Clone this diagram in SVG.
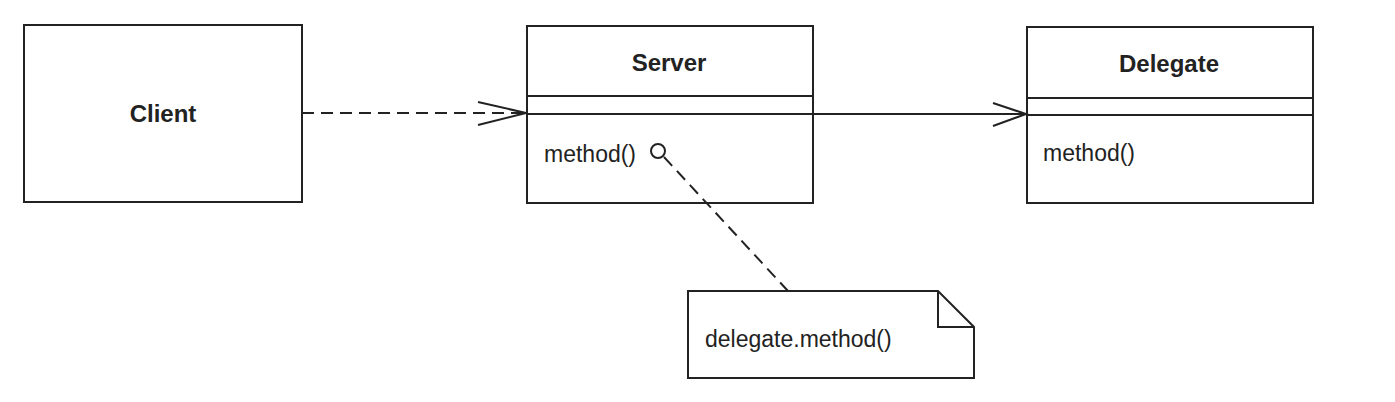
<svg xmlns="http://www.w3.org/2000/svg" width="1395" height="402" viewBox="0 0 1395 402">
<style>
.box{fill:#fff;stroke:#222;stroke-width:2}
.ln{fill:none;stroke:#222;stroke-width:2}
.dash{fill:none;stroke:#222;stroke-width:2;stroke-dasharray:12 7}
.b{font-family:"Liberation Sans",Arial,sans-serif;font-weight:bold;font-size:24px;fill:#222;text-anchor:middle}
.r{font-family:"Liberation Sans",Arial,sans-serif;font-size:23px;fill:#222}
</style>
<rect width="1395" height="402" fill="#fff"/>
<g id="client">
<rect class="box" x="24" y="25" width="278" height="177"/>
<text class="b" x="163" y="122">Client</text>
</g>
<g id="server">
<rect class="box" x="527" y="26" width="286" height="177"/>
<line class="ln" x1="527" y1="96" x2="813" y2="96"/>
<line class="ln" x1="527" y1="114" x2="813" y2="114"/>
<text class="b" x="669" y="71">Server</text>
<text class="r" x="544" y="162">method()</text>
<circle class="ln" cx="658" cy="151" r="7"/>
</g>
<g id="delegate">
<rect class="box" x="1027" y="27" width="286" height="176"/>
<line class="ln" x1="1027" y1="98" x2="1313" y2="98"/>
<line class="ln" x1="1027" y1="115" x2="1313" y2="115"/>
<text class="b" x="1169" y="72">Delegate</text>
<text class="r" x="1043" y="161">method()</text>
</g>
<g id="note">
<path class="box" d="M688,291 L938,291 L974,327 L974,378 L688,378 Z"/>
<path class="ln" d="M938,291 L938,327 L974,327"/>
<text class="r" x="705" y="347">delegate.method()</text>
</g>
<g id="connectors">
<line class="dash" x1="302" y1="113" x2="525" y2="113"/>
<polyline class="ln" points="478,102 526,113 478,125"/>
<line class="ln" x1="813" y1="114" x2="1026" y2="114"/>
<polyline class="ln" points="993,103 1026,114 993,126"/>
<line class="dash" x1="664" y1="157" x2="788" y2="291"/>
</g>
</svg>
